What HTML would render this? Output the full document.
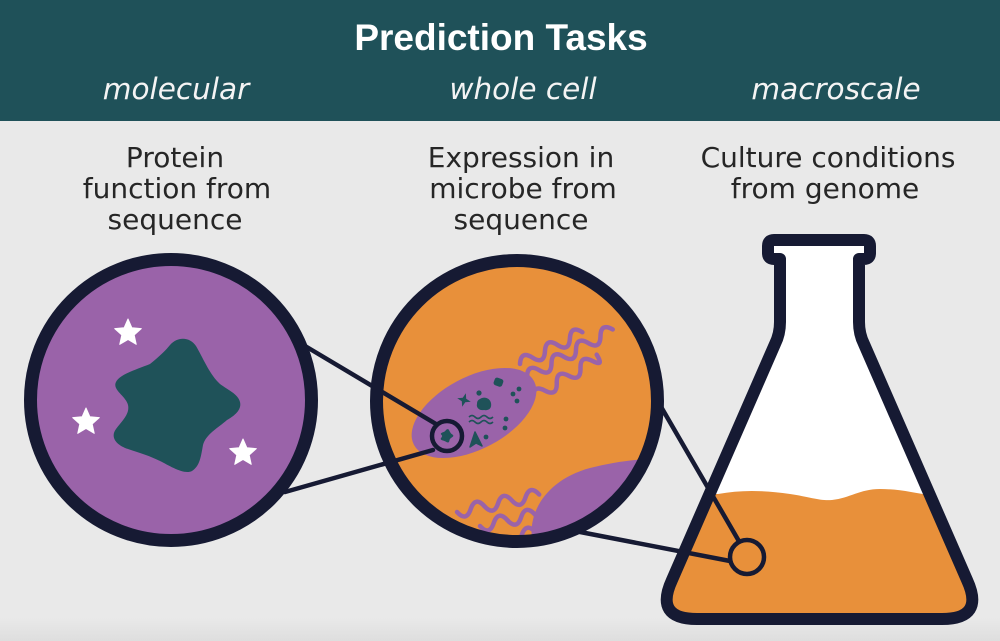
<!DOCTYPE html>
<html><head><meta charset="utf-8">
<style>
html,body{margin:0;padding:0;background:#e9e9e9;}
svg{display:block;}
</style></head>
<body>
<svg width="1000" height="641" viewBox="0 0 1000 641" xmlns="http://www.w3.org/2000/svg">
<defs>
  <linearGradient id="bg" x1="0" y1="0" x2="0" y2="1">
    <stop offset="0" stop-color="#e9e9e9"/>
    <stop offset="1" stop-color="#dedede"/>
  </linearGradient>
  <clipPath id="c2"><circle cx="517" cy="401" r="141"/></clipPath>
  <clipPath id="fl"><path d="M774,240 L864,240 Q870,240 870,246 L870,253 Q870,259 864,259 L859,259 L859,322 Q859,334 864,344 L967,580 Q985,619 942,619 L697,619 Q654,619 672,580 L775,344 Q780,334 780,322 L780,259 L774,259 Q768,259 768,253 L768,246 Q768,240 774,240 Z"/></clipPath>
  <path id="star" d="M0,-14 L3.82,-5.26 L13.31,-4.33 L6.18,2.01 L8.23,11.33 L0,6.5 L-8.23,11.33 L-6.18,2.01 L-13.31,-4.33 L-3.82,-5.26 Z"/>
  <path id="blob" d="M150,364 C160,356 166,350 170,345 C178,336 190,337 196,346 C203,358 210,375 220,384 C228,390 238,394 240,402 C242,410 234,416 227,420 C218,428 206,434 203,445 C201,456 200,466 192,471 C184,475 170,466 160,461 C150,456 140,453 128,449 C116,445 110,437 116,429 C122,421 130,414 128,405 C126,396 112,390 116,382 C120,374 138,369 150,364 Z"/>
</defs>

<!-- background -->
<rect x="0" y="0" width="1000" height="641" fill="#e9e9e9"/>
<rect x="0" y="618" width="1000" height="23" fill="url(#bg)"/>

<!-- header -->
<rect x="0" y="0" width="1000" height="121" fill="#1f5159"/>
<text x="501" y="50" font-family="Liberation Sans, Arial, sans-serif" font-weight="bold" font-size="37" fill="#ffffff" text-anchor="middle">Prediction Tasks</text>
<g font-family="DejaVu Sans, Liberation Sans, sans-serif" font-style="italic" font-size="29.5" fill="#f4f4f4" text-anchor="middle">
  <text x="176" y="99">molecular</text>
  <text x="523" y="99">whole cell</text>
  <text x="836" y="99">macroscale</text>
</g>

<!-- labels -->
<g font-family="DejaVu Sans, Liberation Sans, sans-serif" font-size="28" fill="#262626" text-anchor="middle">
  <text x="175" y="167">Protein</text>
  <text x="177" y="198">function from</text>
  <text x="175" y="229">sequence</text>
  <text x="521" y="167">Expression in</text>
  <text x="523" y="198">microbe from</text>
  <text x="521" y="229">sequence</text>
  <text x="828" y="167">Culture conditions</text>
  <text x="825" y="198">from genome</text>
</g>

<!-- flask -->
<path d="M774,240 L864,240 Q870,240 870,246 L870,253 Q870,259 864,259 L859,259 L859,322 Q859,334 864,344 L967,580 Q985,619 942,619 L697,619 Q654,619 672,580 L775,344 Q780,334 780,322 L780,259 L774,259 Q768,259 768,253 L768,246 Q768,240 774,240 Z" fill="#ffffff"/>
<g clip-path="url(#fl)">
  <path d="M640,494 L718,494 C740,490 762,490 790,494 C810,497 820,501 832,500 C850,498 860,489 880,489 C900,489 915,493 940,497 L1000,497 L1000,641 L640,641 Z" fill="#e8903a"/>
</g>
<path d="M774,240 L864,240 Q870,240 870,246 L870,253 Q870,259 864,259 L859,259 L859,322 Q859,334 864,344 L967,580 Q985,619 942,619 L697,619 Q654,619 672,580 L775,344 Q780,334 780,322 L780,259 L774,259 Q768,259 768,253 L768,246 Q768,240 774,240 Z" fill="none" stroke="#161a33" stroke-width="12" stroke-linejoin="round"/>

<!-- circle 2 contents -->
<circle cx="517" cy="401" r="141" fill="#e8903a"/>
<g clip-path="url(#c2)">
  <g fill="none" stroke="#9a63a9" stroke-width="4.5" stroke-linecap="round">
    <path transform="translate(520,364) rotate(-27)" d="M0,0 q7,-12 14,0 t14,0 t14,0 t14,0 t14,0"/>
    <path transform="translate(527,377) rotate(-29)" d="M0,0 q7,-12 14,0 t14,0 t14,0 t14,0 t14,0 t14,0 t14,0"/>
    <path transform="translate(533,398) rotate(-32)" d="M0,0 q7,-12 14,0 t14,0 t14,0 t14,0 t14,0 t7,-3"/>
    <path transform="translate(457,512) rotate(-12)" d="M0,0 q7,12 14,0 t14,0 t14,0 t14,0 t14,0 t14,0"/>
    <path transform="translate(480,526) rotate(-12)" d="M0,0 q7,12 14,0 t14,0 t14,0 t14,0 t14,0"/>
    <path transform="translate(508,538) rotate(-12)" d="M0,0 q7,12 14,0 t14,0 t14,0"/>
  </g>
  <ellipse cx="474" cy="413" rx="68" ry="36" transform="rotate(-28 474 413)" fill="#9a63a9"/>
  <path d="M534,548 C524,516 545,480 590,468 C630,458 670,455 700,465 L700,620 L534,620 Z" fill="#9a63a9"/>
  <g fill="#1f5259">
    <rect x="494" y="378" width="9" height="8" rx="2.5" transform="rotate(20 498 382)"/>
    <circle cx="479" cy="393" r="2.6"/>
    <path transform="translate(464,400) rotate(15)" d="M0,-7 L1.8,-1.8 L7,0 L1.8,1.8 L0,7 L-1.8,1.8 L-7,0 L-1.8,-1.8 Z"/>
    <path d="M480,399 C484,396 490,398 491,403 C492,408 489,411 484,410 C479,411 476,407 477,404 C477,401 478,400 480,399 Z"/>
    <circle cx="513" cy="394" r="2.4"/>
    <circle cx="519" cy="389" r="2.4"/>
    <circle cx="517" cy="401" r="2.4"/>
    <circle cx="506" cy="419" r="2.4"/>
    <circle cx="505" cy="428" r="2.4"/>
    <circle cx="486" cy="437" r="2.4"/>
    <path d="M470,447 L475,432 L482,446 L476,443 Z" stroke="#1f5259" stroke-width="1.5" stroke-linejoin="round"/>
  </g>
  <g fill="none" stroke="#1f5259" stroke-width="1.6">
    <path d="M469,417 q3,-3 6,0 t6,0 t6,0 t6,0"/>
    <path d="M469,422 q3,-3 6,0 t6,0 t6,0 t6,0"/>
  </g>
</g>

<!-- connector lines -->
<g stroke="#161a33" stroke-width="4.5" stroke-linecap="round">
  <line x1="300" y1="343" x2="436" y2="424"/>
  <line x1="285" y1="492" x2="433" y2="450"/>
  <line x1="660" y1="405" x2="740" y2="543"/>
  <line x1="575" y1="531" x2="730" y2="561"/>
</g>

<!-- circle 1 -->
<circle cx="171" cy="400" r="140.5" fill="#9a63a9" stroke="#161a33" stroke-width="13"/>
<use href="#blob" fill="#1f5259"/>
<g fill="#ffffff" stroke="#ffffff" stroke-width="1" stroke-linejoin="round">
  <use href="#star" transform="translate(128,333)"/>
  <use href="#star" transform="translate(86,422)"/>
  <use href="#star" transform="translate(243,453)"/>
</g>

<!-- circle 2 stroke -->
<circle cx="517" cy="401" r="140.5" fill="none" stroke="#161a33" stroke-width="13"/>

<!-- small circles -->
<circle cx="447" cy="436" r="15" fill="#9a63a9" stroke="#161a33" stroke-width="4.5"/>
<use href="#blob" fill="#1f5259" transform="translate(447,436) scale(0.1) translate(-177,-407)"/>
<circle cx="747" cy="557" r="17" fill="#e8903a" stroke="#161a33" stroke-width="4.5"/>
</svg>
</body></html>
